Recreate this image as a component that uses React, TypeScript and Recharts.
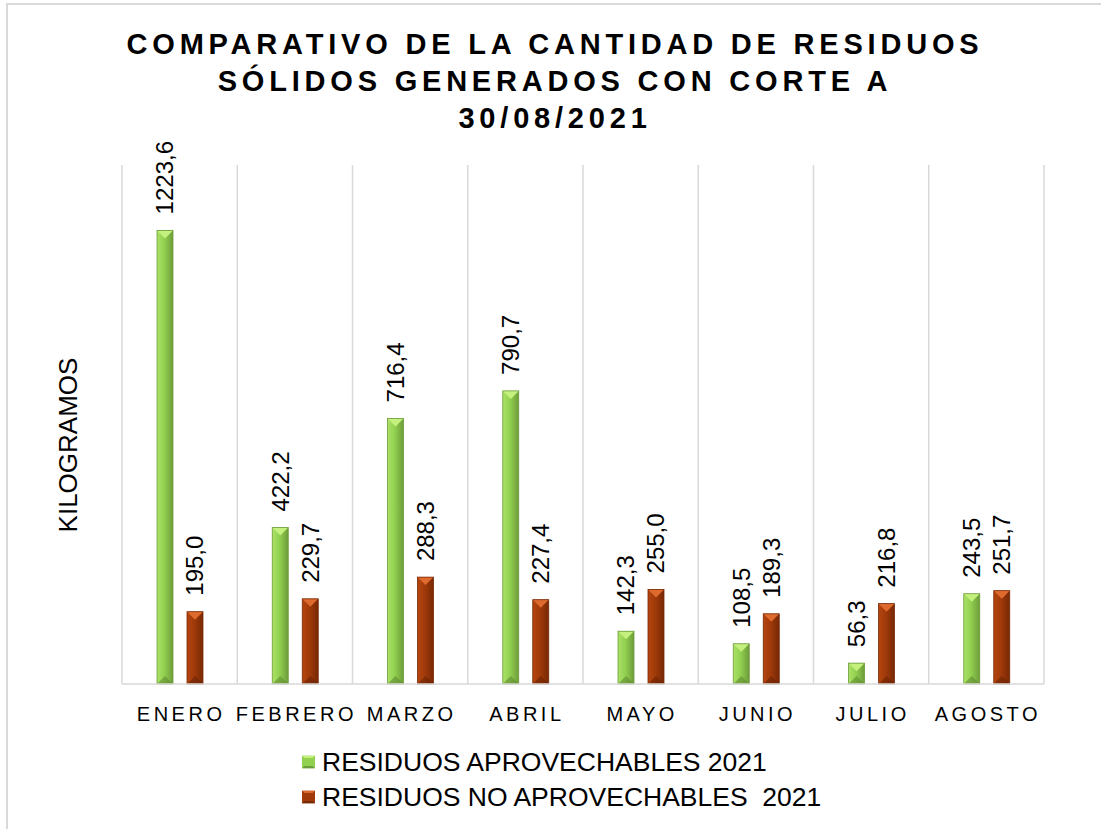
import * as React from "react"
import { BarChart, Bar, XAxis, YAxis, CartesianGrid, LabelList } from "recharts"

const months = ["ENERO", "FEBRERO", "MARZO", "ABRIL", "MAYO", "JUNIO", "JULIO", "AGOSTO"]
const aprovechables = [1223.6, 422.2, 716.4, 790.7, 142.3, 108.5, 56.3, 243.5]
const noAprovechables = [195.0, 229.7, 288.3, 227.4, 255.0, 189.3, 216.8, 251.7]

const series = [
  {
    key: "aprov",
    name: "RESIDUOS APROVECHABLES 2021",
    light: "#abe266",
    base: "#92d050",
    dark: "#6d9c3a",
    top: "#c4f07e",
    bottom: "#5f8a30",
  },
  {
    key: "noAprov",
    name: "RESIDUOS NO APROVECHABLES  2021",
    light: "#b5450f",
    base: "#a03a0a",
    dark: "#772805",
    top: "#de6a2e",
    bottom: "#6a2304",
  },
]

const data = months.map((m, i) => ({
  month: m,
  aprov: aprovechables[i],
  noAprov: noAprovechables[i],
}))

const FONT = '"Liberation Sans", Arial, sans-serif'

const fmt = (v: number) => v.toFixed(1).replace(".", ",")

function bevelShape(s: (typeof series)[number]) {
  return (props: any) => {
    const { x, y, width: w, height: h } = props
    if (!h || h <= 0) return <g />
    const t = Math.min(w / 2, h / 2)
    return (
      <g>
        <rect x={x} y={y} width={w} height={h} fill={`url(#grad-${s.key})`} />
        <polygon points={`${x},${y} ${x + w},${y} ${x + w / 2},${y + t}`} fill={s.top} />
        <polygon
          points={`${x},${y + h} ${x + w},${y + h} ${x + w / 2},${y + h - t}`}
          fill={s.bottom}
          opacity={0.6}
        />
        <rect x={x} y={y} width={w} height={h} fill="none" stroke={s.dark} strokeWidth={0.8} />
      </g>
    )
  }
}

function ValueLabel(props: any) {
  const { x, y, width, value } = props
  const cx = x + width / 2
  const ty = y - 16
  return (
    <text
      x={cx}
      y={ty}
      transform={`rotate(-90 ${cx} ${ty})`}
      textAnchor="start"
      dominantBaseline="central"
      fontSize={24}
      fontFamily={FONT}
      fill="#000"
    >
      {fmt(value)}
    </text>
  )
}

function MonthTick(props: any) {
  const { x, y, payload } = props
  return (
    <text
      x={x + 1.5}
      y={y + 22}
      textAnchor="middle"
      dominantBaseline="central"
      fontSize={20}
      fontFamily={FONT}
      fill="#000"
      style={{ letterSpacing: 3.5 }}
    >
      {payload.value}
    </text>
  )
}

export default function App() {
  return (
    <div
      style={{
        position: "absolute",
        left: 0,
        top: 0,
        width: 1101,
        height: 829,
        background: "#fff",
        fontFamily: FONT,
        overflow: "hidden",
      }}
    >
      <div
        style={{
          position: "absolute",
          left: 6,
          top: 3,
          width: 1200,
          height: 1000,
          borderLeft: "2px solid #d9d9d9",
          borderTop: "2px solid #d9d9d9",
        }}
      />
      <div
        style={{
          position: "absolute",
          left: 0,
          top: 26,
          width: 1110,
          textAlign: "center",
          fontSize: 29,
          fontWeight: "bold",
          lineHeight: "37px",
          letterSpacing: 4.8,
          color: "#000",
        }}
      >
        COMPARATIVO DE LA CANTIDAD DE RESIDUOS
        <br />
        SÓLIDOS GENERADOS CON CORTE A
        <br />
        30/08/2021
      </div>
      <div
        style={{
          position: "absolute",
          left: 68,
          top: 445,
          transform: "translate(-50%, -50%) rotate(-90deg)",
          fontSize: 26,
          whiteSpace: "nowrap",
          color: "#000",
        }}
      >
        KILOGRAMOS
      </div>
      <div style={{ position: "absolute", left: 0, top: 0 }}>
        <BarChart
          width={1101}
          height={829}
          data={data}
          margin={{ top: 165, right: 57, bottom: 105, left: 122 }}
          barSize={16}
          barGap={14}
        >
          <defs>
            {series.map((s) => (
              <linearGradient key={s.key} id={`grad-${s.key}`} x1="0" y1="0" x2="1" y2="0">
                <stop offset="0%" stopColor={s.light} />
                <stop offset="45%" stopColor={s.base} />
                <stop offset="100%" stopColor={s.dark} />
              </linearGradient>
            ))}
          </defs>
          <CartesianGrid
            horizontal={false}
            stroke="#d9d9d9"
            strokeWidth={1.5}
            verticalCoordinatesGenerator={(p: any) => {
              const off = p.offset
              return Array.from({ length: months.length + 1 }, (_, i) => off.left + (i * off.width) / months.length)
            }}
          />
          <XAxis
            dataKey="month"
            height={40}
            axisLine={{ stroke: "#d9d9d9", strokeWidth: 1.5 }}
            tickLine={false}
            tick={<MonthTick />}
            interval={0}
          />
          <YAxis hide domain={[0, 1400]} />
          {series.map((s) => (
            <Bar
              key={s.key}
              dataKey={s.key}
              name={s.name}
              fill={s.base}
              shape={bevelShape(s)}
              isAnimationActive={false}
            >
              <LabelList dataKey={s.key} content={<ValueLabel />} />
            </Bar>
          ))}
        </BarChart>
      </div>
      {series.map((s, i) => (
        <div
          key={s.key}
          style={{
            position: "absolute",
            left: 302,
            top: 762 + i * 35,
            transform: "translateY(-50%)",
            display: "flex",
            alignItems: "center",
            fontSize: 26.5,
            color: "#000",
            whiteSpace: "pre",
          }}
        >
          <svg width={13} height={13} style={{ marginRight: 7 }}>
            <rect x={0} y={0} width={13} height={13} fill={s.base} />
            <polygon points="0,0 13,0 6.5,6.5" fill={s.top} />
            <polygon points="0,13 13,13 6.5,6.5" fill={s.dark} />
            <rect x={2.5} y={2.5} width={8} height={8} fill={s.base} />
          </svg>
          {s.name}
        </div>
      ))}
    </div>
  )
}
